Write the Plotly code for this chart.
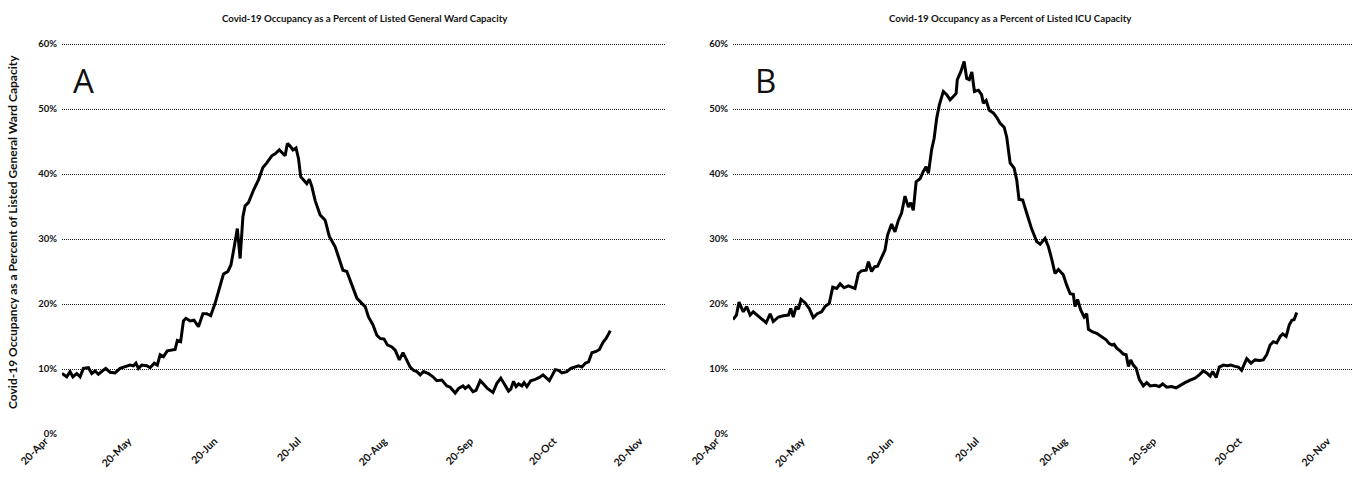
import pandas as pd
import plotly.graph_objects as go

START = pd.Timestamp("2020-04-20")

# Panel A: general ward, days after 20-Apr and percent occupancy
ward_days = [
    0, 1.7, 2.9, 3.9, 5.3, 6.5, 7.7, 9.5, 10.7, 11.9, 13.1, 14.3, 15.7, 17.3,
    19.1, 20.9, 22.7, 24.5, 25.7, 26.6, 27.5, 28.7, 30.5, 31.7, 33.2, 34.3,
    35.3, 36.5, 37.9, 39.5, 40.7, 41.5, 42.7, 43.7, 44.6, 46.1, 47.5, 49.1,
    50.7, 52.1, 53.5, 55.1, 56.6, 58.1, 59.7, 60.8, 61.9, 63.1, 64.1, 65.1,
    65.9, 67.1, 68.9, 70.7, 72.3, 73.7, 75.5, 76.7, 78.2, 79.5, 80.3, 81.1,
    82.1, 83.1, 84.2, 85.1, 85.9, 87.1, 88.1, 89.0, 89.9, 91.1, 92.9, 94.7,
    96.2, 98.3, 100.1, 101.1, 102.5, 104.3, 106.1, 107.9, 109.1, 110.3, 111.9,
    113.3, 114.5, 115.9, 117.1, 118.7, 119.9, 121.4, 122.7, 123.8, 125.3,
    126.5, 127.7, 128.9, 130.1, 131.9, 133.5, 134.9, 136.7, 138.5, 139.7,
    141.5, 142.7, 144.3, 145.1, 146.3, 147.9, 149.0, 150.5, 151.7, 153.1,
    155.1, 156.5, 157.9, 159.1, 160.7, 161.5, 162.5, 163.4, 164.3, 165.5,
    166.3, 167.3, 168.7, 170.3, 171.8, 173.1, 174.2, 175.4, 177.5, 178.7,
    179.9, 181.7, 183.1, 184.7, 185.9, 187.1, 188.3, 189.5, 190.7, 192.2,
    193.4, 194.7, 195.8, 196.7, 197.3,
]
ward_pct = [
    9.3, 8.8, 9.6, 8.8, 9.3, 8.8, 10.1, 10.2, 9.3, 9.7, 9.2, 9.6, 10.1, 9.5,
    9.4, 10.1, 10.4, 10.6, 10.5, 10.9, 10.1, 10.6, 10.5, 10.2, 10.9, 10.6,
    12.2, 11.9, 12.8, 12.9, 13.0, 14.4, 14.2, 17.4, 17.8, 17.4, 17.5, 16.5,
    18.5, 18.5, 18.2, 20.1, 22.2, 24.6, 25.0, 26.0, 28.6, 31.6, 27.0, 33.4,
    35.1, 35.6, 37.5, 39.1, 41.0, 41.7, 42.8, 43.1, 43.7, 43.1, 42.8, 44.7,
    44.3, 43.7, 44.0, 42.4, 39.6, 39.0, 38.5, 39.2, 38.1, 35.9, 33.7, 32.9,
    30.4, 28.8, 26.5, 25.2, 25.0, 22.9, 20.9, 20.1, 19.6, 18.0, 16.8,
    15.2, 14.7, 14.6, 13.7, 13.4, 12.9, 11.4, 12.5, 11.6, 10.3,
    9.8, 9.6, 9.1, 9.6, 9.3, 8.8, 8.2, 8.3, 7.4, 7.2,
    6.3, 7.0, 7.4, 7.0, 7.4, 6.5, 6.7, 8.2, 7.7, 7.0,
    6.4, 7.8, 8.6, 7.8, 6.6, 6.9, 8.1, 7.3, 7.7, 7.4,
    7.9, 7.3, 8.2, 8.4, 8.7, 9.1, 8.6, 8.2, 9.9, 9.8,
    9.4, 9.6, 10.1, 10.3, 10.5, 10.3, 10.9, 11.1, 12.5, 12.7,
    13.0, 14.1, 14.7, 15.4, 15.9,
]

# Panel B: ICU
icu_days = [
    0, 1.2, 2.1, 3.6, 4.8, 6.0, 7.1, 8.9, 10.6, 11.6, 13.0, 14.1, 15.9, 17.6,
    19.4, 20.2, 21.1, 22.1, 22.9, 23.8, 25.2, 26.7, 28.1, 29.5, 31.0, 32.2,
    33.7, 34.9, 36.3, 37.5, 38.9, 40.4, 41.5, 42.7, 43.9, 45.0, 46.6, 47.4,
    48.5, 49.5, 50.6, 52.0, 53.2, 54.1, 55.5, 56.7, 57.9, 59.0, 60.2, 61.4,
    62.2, 63.1, 64.1, 65.5, 66.6, 67.6, 68.4, 69.5, 70.4, 71.3, 72.2, 73.6,
    74.8, 76.0, 77.1, 78.1, 78.5, 79.7, 80.9, 81.8, 82.7, 83.6, 84.5, 85.9,
    87.0, 87.6, 88.6, 89.7, 91.1, 92.3, 93.5, 94.9, 95.8, 97.0, 98.4, 99.3,
    100.1, 101.4, 103.0, 104.5, 106.3, 107.5, 109.2, 110.4, 111.5, 112.7,
    113.9, 115.6, 116.8, 118.0, 119.1, 119.7, 120.6, 121.7, 122.9, 123.8,
    124.4, 125.9, 127.3, 129.0, 130.6, 131.7, 132.6, 133.4, 134.3, 135.7,
    136.6, 137.6, 138.4, 139.2, 140.1, 141.1, 142.2, 143.6, 144.8, 146.0,
    147.7, 149.2, 150.4, 151.8, 153.5, 155.1, 156.5, 158.2, 160.0, 161.7,
    163.2, 164.6, 165.8, 167.0, 167.9, 169.1, 170.2, 171.6, 173.0, 174.2,
    175.7, 176.9, 178.0, 179.8, 181.3, 182.7, 184.2, 185.6, 186.8, 188.0,
    189.1, 190.3, 191.5, 192.4, 193.6, 194.7, 195.6, 196.4, 197.3,
]
icu_pct = [
    17.6, 18.3, 20.3, 18.8, 19.6, 18.3, 18.8, 18.2, 17.5, 17.1, 18.5, 17.3,
    18.0, 18.2, 18.3, 19.3, 18.0, 19.6, 19.2, 20.7, 20.2, 19.3, 17.9, 18.5,
    18.8, 19.6, 20.1, 22.6, 22.4, 23.1, 22.5, 22.8, 22.6, 22.4, 24.7, 25.1,
    25.2, 26.5, 25.0, 25.7, 25.8, 27.2, 28.3, 30.6, 32.3, 31.1, 32.9, 34.0,
    36.6, 34.9, 35.6, 34.4, 38.8, 39.3, 40.4, 41.1, 40.1, 43.7, 45.5, 48.6,
    50.6, 52.7, 52.2, 51.4, 51.9, 52.4, 54.5, 55.7, 57.3, 54.7, 54.5, 55.7,
    52.7, 52.9, 52.2, 50.9, 51.3, 49.8, 49.4, 48.7, 47.8, 47.2, 45.7, 41.7,
    40.9, 39.1, 36.1, 36.0, 33.7, 31.6, 29.6, 29.2, 30.1, 28.8, 27.0, 24.7,
    25.3, 24.5, 22.9, 21.6, 21.5, 19.6, 20.7, 19.1, 18.0, 18.5, 16.1, 15.7,
    15.5, 15.0, 14.5, 13.9, 13.7, 13.8, 13.2, 12.7, 12.3, 12.2, 10.4, 11.4,
    10.6, 10.1, 8.4, 7.4, 7.9, 7.4, 7.5, 7.3, 7.7, 7.2, 7.3, 7.1, 7.5, 7.9,
    8.3, 8.6, 9.1, 9.7, 9.4, 8.9, 9.6, 8.7, 10.3, 10.6, 10.5, 10.6, 10.4,
    10.3, 9.8, 11.6, 10.9, 11.4, 11.3, 11.4, 12.2, 13.7, 14.2, 14.0, 15.0,
    15.4, 15.0, 16.8, 17.5, 17.6, 18.7,
]

TICK_DATES = ["2020-04-20", "2020-05-20", "2020-06-20", "2020-07-20",
              "2020-08-20", "2020-09-20", "2020-10-20", "2020-11-20"]
Y_TICKS = [0, 10, 20, 30, 40, 50, 60]
Y_LABELS = ["0%", "10%", "20%", "30%", "40%", "50%", "60%"]

TITLE_A = "Covid-19 Occupancy as a Percent of Listed General Ward Capacity"
TITLE_B = "Covid-19 Occupancy as a Percent of Listed ICU Capacity"

FONT = "Lato, Open Sans, sans-serif"
W, H = 1356, 477


def to_dates(days):
  return [START + pd.Timedelta(days=d) for d in days]


fig = go.Figure()
fig.add_trace(go.Scatter(x=to_dates(ward_days), y=ward_pct, mode="lines",
                         line=dict(color="black", width=3),
                         xaxis="x", yaxis="y", showlegend=False))
fig.add_trace(go.Scatter(x=to_dates(icu_days), y=icu_pct, mode="lines",
                         line=dict(color="black", width=3),
                         xaxis="x2", yaxis="y2", showlegend=False))

# plot area: 0% at y=434 px, 60% at y=44 px; range top padded so 60% grid shows
y_dom = [1 - 434 / H, 1 - 42.7 / H]
x_axis = dict(type="date",
              range=["2020-04-20", "2020-11-23"],
              tickvals=TICK_DATES,
              tickformat="%d-%b",
              tickangle=-45,
              ticklabelshift=-17,
              ticklabelstandoff=-2,
              showgrid=False,
              zeroline=False,
              showline=False,
              ticks="",
              automargin=False,
              tickfont=dict(family=FONT, size=10.5, color="#111", weight=700))
y_axis = dict(range=[0, 60.2],
              tickvals=Y_TICKS,
              ticktext=Y_LABELS,
              showgrid=True,
              gridcolor="#222",
              griddash="1px,1px",
              gridwidth=1,
              zeroline=True,
              zerolinecolor="white",
              showline=False,
              ticks="",
              ticklabelstandoff=4,
              automargin=False,
              tickfont=dict(family=FONT, size=9.5, color="#111", weight=700),
              domain=y_dom)

fig.update_layout(
    width=W,
    height=H,
    margin=dict(l=0, r=0, t=0, b=0),
    paper_bgcolor="white",
    plot_bgcolor="white",
    xaxis=dict(x_axis, domain=[62 / W, 665 / W], anchor="y"),
    yaxis=dict(y_axis, anchor="x"),
    xaxis2=dict(x_axis, domain=[733 / W, 1353 / W], anchor="y2"),
    yaxis2=dict(y_axis, anchor="x2"),
)

annotations = [
    dict(text=TITLE_A, x=365 / W, y=1 - 18 / H,
         font=dict(family=FONT, size=9.7, weight=700)),
    dict(text=TITLE_B, x=1010 / W, y=1 - 18 / H,
         font=dict(family=FONT, size=9.7, weight=700)),
    dict(text="A", x=83 / W, y=1 - 80 / H,
         font=dict(family="Open Sans", size=33)),
    dict(text="B", x=765 / W, y=1 - 80 / H,
         font=dict(family="Open Sans", size=33)),
    dict(text=TITLE_A, x=12 / W, y=1 - 232 / H, textangle=-90,
         font=dict(family=FONT, size=12, weight=700)),
]
for ann in annotations:
  ann["font"] = dict(color="#111", **ann["font"])
  fig.add_annotation(xref="paper", yref="paper", showarrow=False,
                     xanchor="center", yanchor="middle", **ann)

# the default page keeps an 8px body margin; drop it so the figure sits at 0,0
fig.write_html("out.html", config={"displayModeBar": False},
               post_script="document.body.style.margin = '0';")
